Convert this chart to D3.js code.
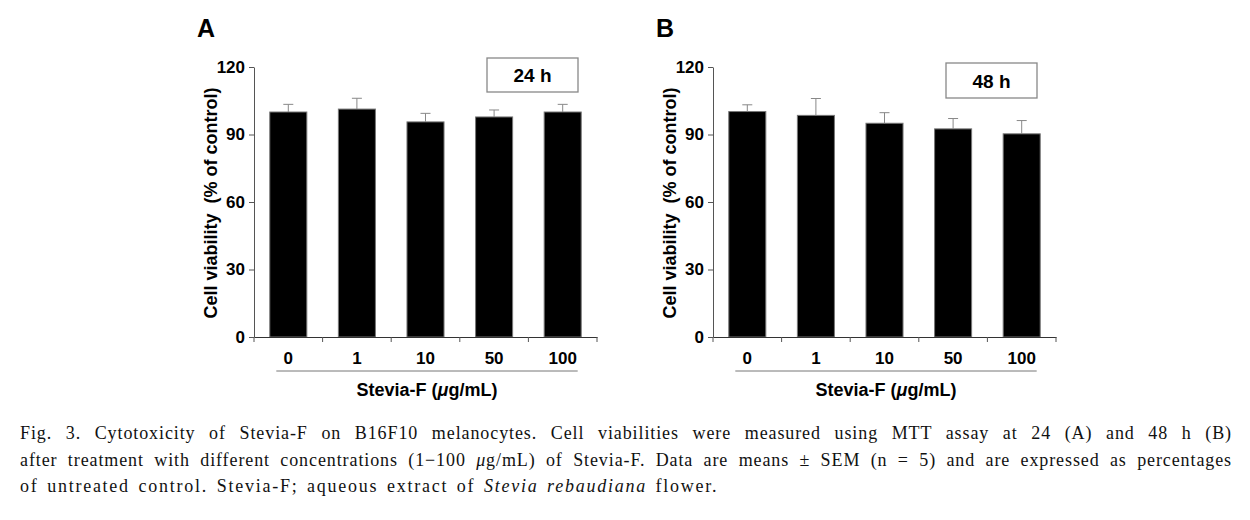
<!DOCTYPE html>
<html>
<head>
<meta charset="utf-8">
<script src="https://cdn.jsdelivr.net/npm/d3@7/dist/d3.min.js"></script>
<style>
    body { margin: 0; background: #fff; }
    svg text { font-family: "Liberation Sans", Arial, sans-serif; font-weight: bold; fill: #000; }
    #caption {
        position: absolute; left: 20px; top: 420px; width: 1212px;
        font-family: "Liberation Serif", "Times New Roman", serif;
        font-size: 18px; line-height: 26.7px; color: #111;
    }
    #caption .j { text-align: justify; text-align-last: justify; letter-spacing: 0.9px; }
    #caption .last { letter-spacing: 1.75px; word-spacing: 2.4px; }
</style>
</head>
<body>
<svg id="chart" width="1250" height="520"></svg>
<div id="caption">
    <div class="j">Fig. 3. Cytotoxicity of Stevia-F on B16F10 melanocytes. Cell viabilities were measured using MTT assay at 24 (A) and 48 h (B)</div>
    <div class="j">after treatment with different concentrations (1−100 <i>μ</i>g/mL) of Stevia-F. Data are means ± SEM (n = 5) and are expressed as percentages</div>
    <div class="last">of untreated control. Stevia-F; aqueous extract of <i>Stevia rebaudiana</i> flower.</div>
</div>
<script>
    var concentrations = ["0", "1", "10", "50", "100"];
    var yTicks = [0, 30, 60, 90, 120];

    var viability24 = [100, 101.3, 95.6, 97.8, 100];
    var sem24 = [3.4, 4.8, 3.8, 3.1, 3.4];

    var viability48 = [100.2, 98.5, 95, 92.5, 90.3];
    var sem48 = [3, 7.5, 4.7, 4.6, 5.9];

    var svg = d3.select("#chart");

    function drawPanel(opts) {
        var data = concentrations.map(function(c, i) {
            return { conc: c, value: opts.values[i], sem: opts.sems[i] };
        });

        var x = d3.scaleBand()
            .domain(concentrations)
            .range([opts.left, opts.right])
            .paddingInner(0.46)
            .paddingOuter(0.23);

        var y = d3.scaleLinear()
            .domain([0, 120])
            .range([337, 67]);

        var g = svg.append("g");

        // bars
        g.selectAll(".bar")
            .data(data)
            .enter().append("rect")
            .attr("x", function(d) { return x(d.conc); })
            .attr("y", function(d) { return y(d.value); })
            .attr("width", x.bandwidth())
            .attr("height", function(d) { return y(0) - y(d.value); })
            .attr("fill", "#000")
            .attr("stroke", "#777")
            .attr("stroke-width", 1);

        // error bars (upper only visible)
        var err = g.selectAll(".err")
            .data(data)
            .enter().append("g")
            .attr("stroke", "#888")
            .attr("stroke-width", 1);
        err.append("line")
            .attr("x1", function(d) { return x(d.conc) + x.bandwidth() / 2; })
            .attr("x2", function(d) { return x(d.conc) + x.bandwidth() / 2; })
            .attr("y1", function(d) { return y(d.value); })
            .attr("y2", function(d) { return y(d.value + d.sem); });
        err.append("line")
            .attr("x1", function(d) { return x(d.conc) + x.bandwidth() / 2 - 5; })
            .attr("x2", function(d) { return x(d.conc) + x.bandwidth() / 2 + 5; })
            .attr("y1", function(d) { return y(d.value + d.sem); })
            .attr("y2", function(d) { return y(d.value + d.sem); });

        // y axis
        var yAxis = g.append("g")
            .attr("transform", "translate(" + opts.left + ",0)")
            .call(d3.axisLeft(y).tickValues(yTicks).tickSize(5).tickSizeOuter(0).tickPadding(4));
        yAxis.selectAll("path, line").attr("stroke", "#555");
        yAxis.selectAll("text").style("font-size", "17px").attr("font-family", null);

        // x axis: labels at band centres, ticks at band boundaries
        var xAxis = g.append("g")
            .attr("transform", "translate(0," + y(0) + ")")
            .call(d3.axisBottom(x).tickSize(0).tickPadding(15));
        xAxis.select(".domain").attr("stroke", "#333");
        xAxis.selectAll("text").style("font-size", "17px").attr("font-family", null);

        var step = x.step();
        g.selectAll(".xtick")
            .data(d3.range(concentrations.length + 1))
            .enter().append("line")
            .attr("x1", function(i) { return opts.left + i * step; })
            .attr("x2", function(i) { return opts.left + i * step; })
            .attr("y1", y(0))
            .attr("y2", y(0) + 5)
            .attr("stroke", "#555");

        // line under tick labels
        var first = x(concentrations[0]) + x.bandwidth() / 2 - 12;
        var last = x(concentrations[concentrations.length - 1]) + x.bandwidth() / 2 + 15;
        g.append("line")
            .attr("x1", first).attr("x2", last)
            .attr("y1", 371).attr("y2", 371)
            .attr("stroke", "#777");

        g.append("text")
            .attr("x", (first + last) / 2)
            .attr("y", 396)
            .attr("text-anchor", "middle")
            .style("font-size", "18px")
            .html("Stevia-F (<tspan font-style='italic'>μ</tspan>g/mL)");

        // y label
        g.append("text")
            .attr("transform", "translate(" + (opts.left - 37) + ",203) rotate(-90)")
            .attr("text-anchor", "middle")
            .style("font-size", "18px")
            .style("white-space", "pre")
            .text("Cell viability  (% of control)");

        // panel letter
        g.append("text")
            .attr("x", opts.left - 57)
            .attr("y", 37)
            .style("font-size", "25px")
            .text(opts.letter);

        // time box
        g.append("rect")
            .attr("x", opts.box[0]).attr("y", opts.box[1])
            .attr("width", opts.box[2]).attr("height", opts.box[3])
            .attr("fill", "#fff")
            .attr("stroke", "#888")
            .attr("stroke-width", 1.3);
        g.append("text")
            .attr("x", opts.box[0] + opts.box[2] / 2)
            .attr("y", opts.box[1] + opts.box[3] / 2 + 7)
            .attr("text-anchor", "middle")
            .style("font-size", "19px")
            .text(opts.time);
    }

    drawPanel({ left: 254, right: 597, values: viability24, sems: sem24,
        letter: "A", time: "24 h", box: [487, 58, 91, 34] });
    drawPanel({ left: 713, right: 1056, values: viability48, sems: sem48,
        letter: "B", time: "48 h", box: [946, 63, 91, 35] });
</script>
</body>
</html>
